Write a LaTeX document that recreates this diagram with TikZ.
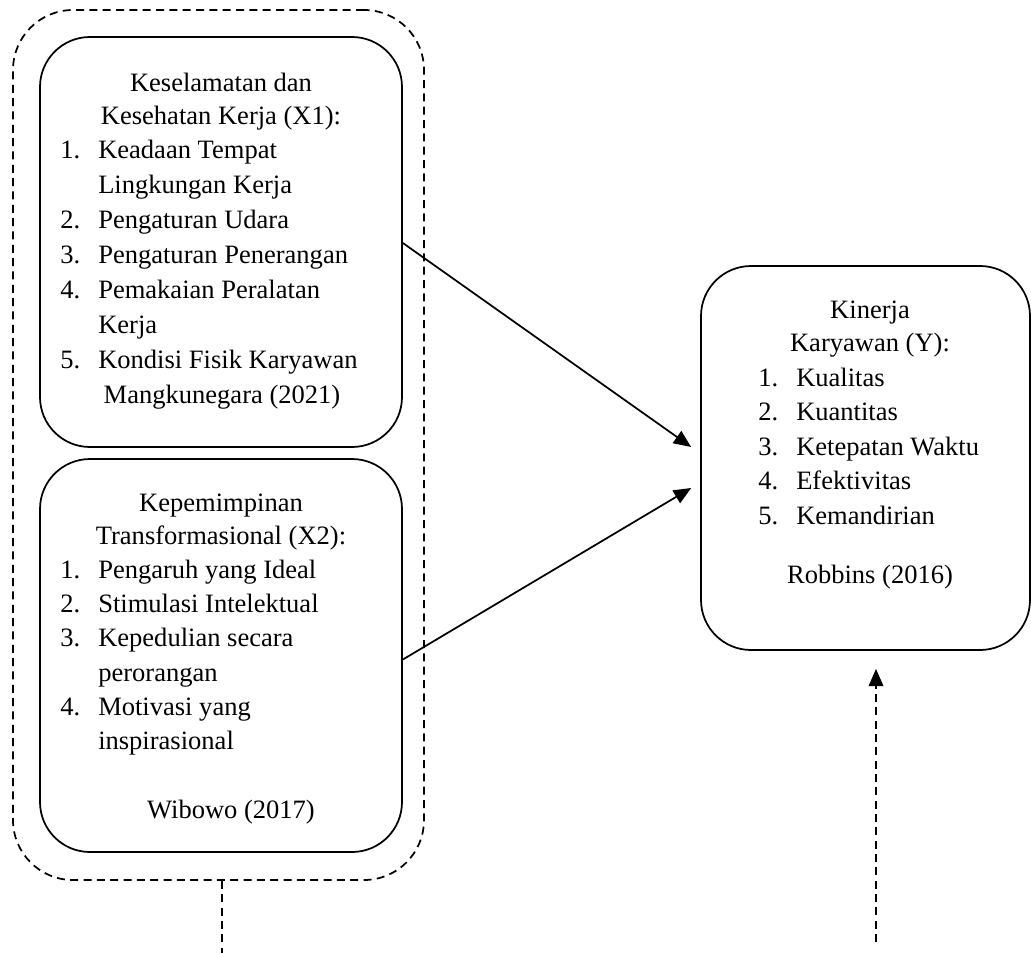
\documentclass[tikz,border=0pt]{standalone}
\usepackage{fontspec}
\setmainfont{Liberation Serif}
\usetikzlibrary{arrows.meta}

\newcommand{\num}[1]{\makebox[28.5pt][l]{#1}}

\begin{document}
\begin{tikzpicture}[x=0.75pt,y=0.75pt,yscale=-1,
  box/.style={draw, line width=1.3pt, rounded corners=37.5pt, inner sep=0pt},
  txt/.style={inner sep=0pt, font=\fontsize{19.9}{26}\selectfont},
  arr/.style={line width=1.3pt, -{Triangle[length=13pt,width=11pt]}},
  dsh/.style={line width=1.3pt, dash pattern=on 6pt off 4pt}]
\useasboundingbox (0,0) rectangle (1031,953);

%Shape: Rounded Rect [outer group]
\node (grp) [box, dsh, rounded corners=45pt, minimum width=308.25pt, minimum height=652.5pt] at (218.5,445) {};
%Shape: Rounded Rect [X1]
\node (x1) [box, minimum width=271.5pt, minimum height=307.5pt] at (221,242) {};
%Shape: Rounded Rect [X2]
\node (x2) [box, minimum width=271.5pt, minimum height=294.75pt] at (221,655.5) {};
%Shape: Rounded Rect [Y]
\node (ky) [box, minimum width=246.75pt, minimum height=288pt] at (865.5,458) {};

% Text Node
\node (x1a) [txt, anchor=base] at (221,91) {Keselamatan dan};
\node (x1b) [txt, anchor=base] at (221,124) {Kesehatan Kerja (X1):};
\node (x1c) [txt, anchor=base west] at (60,158) {\num{1.}Keadaan Tempat};
\node (x1d) [txt, anchor=base west] at (98,193) {Lingkungan Kerja};
\node (x1e) [txt, anchor=base west] at (60,228) {\num{2.}Pengaturan Udara};
\node (x1f) [txt, anchor=base west] at (60,263) {\num{3.}Pengaturan Penerangan};
\node (x1g) [txt, anchor=base west] at (60,298) {\num{4.}Pemakaian Peralatan};
\node (x1h) [txt, anchor=base west] at (98,333) {Kerja};
\node (x1i) [txt, anchor=base west] at (60,368) {\num{5.}Kondisi Fisik Karyawan};
\node (x1j) [txt, anchor=base] at (222,403) {Mangkunegara (2021)};

% Text Node
\node (x2a) [txt, anchor=base] at (221,511) {Kepemimpinan};
\node (x2b) [txt, anchor=base] at (221,544) {Transformasional (X2):};
\node (x2c) [txt, anchor=base west] at (60,578) {\num{1.}Pengaruh yang Ideal};
\node (x2d) [txt, anchor=base west] at (60,612) {\num{2.}Stimulasi Intelektual};
\node (x2e) [txt, anchor=base west] at (60,646) {\num{3.}Kepedulian secara};
\node (x2f) [txt, anchor=base west] at (98,681) {perorangan};
\node (x2g) [txt, anchor=base west] at (60,715) {\num{4.}Motivasi yang};
\node (x2h) [txt, anchor=base west] at (98,749) {inspirasional};
\node (x2i) [txt, anchor=base] at (231,818) {Wibowo (2017)};

% Text Node
\node (kya) [txt, anchor=base] at (870,318) {Kinerja};
\node (kyb) [txt, anchor=base] at (870,351) {Karyawan (Y):};
\node (kyc) [txt, anchor=base west] at (758,386) {\num{1.}Kualitas};
\node (kyd) [txt, anchor=base west] at (758,420) {\num{2.}Kuantitas};
\node (kye) [txt, anchor=base west] at (758,455) {\num{3.}Ketepatan Waktu};
\node (kyf) [txt, anchor=base west] at (758,489) {\num{4.}Efektivitas};
\node (kyg) [txt, anchor=base west] at (758,524) {\num{5.}Kemandirian};
\node (kyh) [txt, anchor=base] at (870,583) {Robbins (2016)};

%Straight Lines
\draw [arr] ([shift={(0,1)}]x1.east) -- ([shift={(-9,-11)}]ky.west);
\draw [arr] ([shift={(0,4)}]x2.east) -- ([shift={(-9,30)}]ky.west);

%Dashed Lines
\coordinate (b1) at (222,953);
\draw [dsh] (grp.south -| b1) -- (b1);
\coordinate (b2) at (876,942);
\draw [dsh, arr] (b2) -- ([shift={(0,18)}]b2 |- ky.south);

\end{tikzpicture}
\end{document}
